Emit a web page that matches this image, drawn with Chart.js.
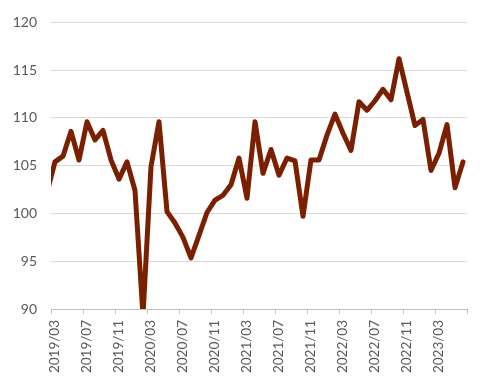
<!DOCTYPE html>
<html>
<head>
<meta charset="utf-8">
<script src="https://cdn.jsdelivr.net/npm/chart.js@4/dist/chart.umd.min.js"></script>
<style>
  html, body { margin: 0; padding: 0; background: #ffffff; }
  #wrap { width: 487px; height: 386px; }
</style>
</head>
<body>
<div id="wrap"><canvas id="c" width="487" height="386"></canvas></div>
<script>
// Monthly categories (first one sits just left of the visible axis, as in the original)
const months = [
  '2019/02','2019/03','2019/04','2019/05','2019/06','2019/07','2019/08','2019/09','2019/10','2019/11','2019/12',
  '2020/01','2020/02','2020/03','2020/04','2020/05','2020/06','2020/07','2020/08','2020/09','2020/10','2020/11','2020/12',
  '2021/01','2021/02','2021/03','2021/04','2021/05','2021/06','2021/07','2021/08','2021/09','2021/10','2021/11','2021/12',
  '2022/01','2022/02','2022/03','2022/04','2022/05','2022/06','2022/07','2022/08','2022/09','2022/10','2022/11','2022/12',
  '2023/01','2023/02','2023/03','2023/04','2023/05','2023/06'
];
const values = [
  102.2, 105.4, 106.0, 108.6, 105.6, 109.6, 107.7, 108.7, 105.6, 103.6, 105.4,
  102.4, 89.3, 104.9, 109.6, 100.2, 99.0, 97.5, 95.35, 97.7, 100.1, 101.4, 101.9,
  103.0, 105.8, 101.6, 109.6, 104.2, 106.7, 104.0, 105.8, 105.5, 99.7, 105.6, 105.6,
  108.2, 110.4, 108.4, 106.6, 111.7, 110.8, 111.8, 113.0, 111.9, 116.2, 112.7, 109.2,
  109.85, 104.5, 106.3, 109.3, 102.7, 105.4
];
const shownMonths = ['03', '07', '11'];
const yMin = 90, yMax = 120, yStep = 5;

function isShown(lbl) {
  return lbl && shownMonths.includes(lbl.slice(5));
}

const FONT = 'Lato, "Liberation Sans", sans-serif';

new Chart(document.getElementById('c'), {
  type: 'line',
  data: {
    labels: months,
    datasets: [{
      data: values,
      borderColor: '#7a2000',
      borderWidth: 5,
      pointRadius: 0,
      tension: 0,
      borderJoinStyle: 'round',
      borderCapStyle: 'round',
      fill: false,
      clip: 0
    }]
  },
  options: {
    responsive: false,
    animation: false,
    events: [],
    layout: { padding: { top: 19, right: 20, bottom: 0, left: 0 } },
    plugins: { legend: { display: false }, tooltip: { enabled: false } },
    scales: {
      x: {
        type: 'category',
        min: '2019/03',
        offset: true,
        afterFit: (s) => { s.height = 77; },
        grid: {
          offset: true,
          drawOnChartArea: false,
          drawTicks: true,
          tickLength: 5,
          tickColor: (ctx) => {
            if (!ctx.tick) return '#bfbfbf';
            return isShown(months[ctx.tick.value]) ? '#bfbfbf' : 'rgba(0,0,0,0)';
          }
        },
        border: { display: true, color: '#bfbfbf', width: 1 },
        ticks: {
          autoSkip: false,
          maxRotation: 90,
          minRotation: 90,
          padding: 6,
          color: '#595959',
          font: { family: FONT, size: 13.5 },
          callback: function (value) {
            const lbl = this.getLabelForValue(value);
            return isShown(lbl) ? lbl : '';
          }
        }
      },
      y: {
        min: yMin,
        max: yMax,
        afterFit: (s) => { s.width = 51; },
        grid: { color: '#d9d9d9', lineWidth: 1, drawTicks: false },
        border: { display: false },
        ticks: {
          stepSize: yStep,
          padding: 14,
          color: '#595959',
          font: { family: FONT, size: 14 }
        }
      }
    }
  }
});
</script>
</body>
</html>
